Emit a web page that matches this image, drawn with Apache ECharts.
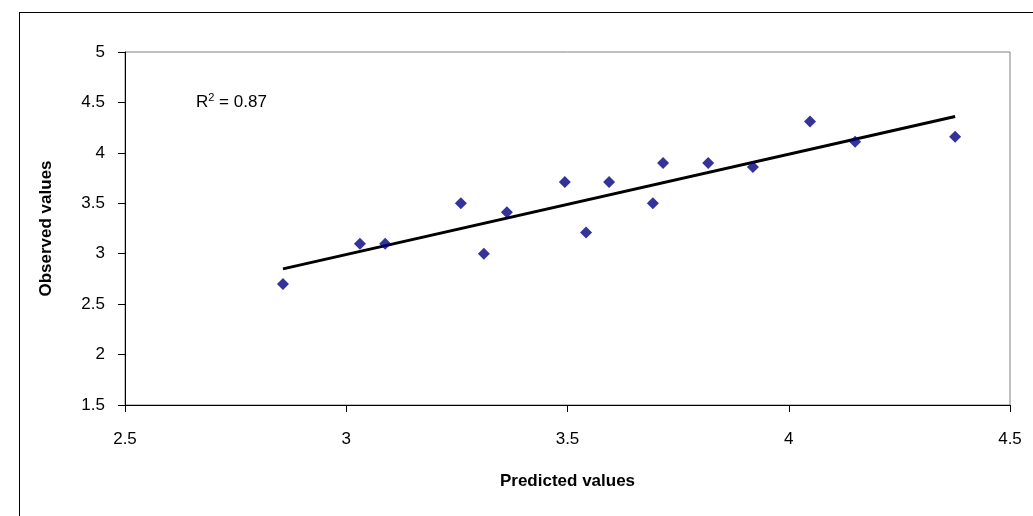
<!DOCTYPE html>
<html><head><meta charset="utf-8">
<script src="https://cdn.jsdelivr.net/npm/echarts@6/dist/echarts.min.js"></script>
<style>html,body{margin:0;padding:0;background:#fff}
#frame{position:absolute;left:19px;top:12px;width:1020px;height:510px;border:1px solid #000;box-sizing:border-box}
#c{width:1033px;height:516px}</style>
</head><body>
<div id="frame"></div>
<div id="c"></div>
<script>
// predicted vs observed
var predicted = [2.857, 3.031, 3.088, 3.259, 3.311, 3.363, 3.494, 3.542, 3.594, 3.693, 3.716, 3.818, 3.919, 4.048, 4.150, 4.376];
var observed  = [2.70, 3.10, 3.10, 3.50, 3.00, 3.41, 3.71, 3.21, 3.71, 3.50, 3.90, 3.90, 3.86, 4.31, 4.11, 4.16];
var trendX = [2.857, 4.376];
var trendY = [2.85, 4.36];

var chart = echarts.init(document.getElementById('c'));
var font = 'Liberation Sans, Arial, sans-serif';
chart.setOption({
  animation: false,
  grid: {left: 125, right: 23, top: 52, bottom: 111, show: true, borderColor: '#808080', borderWidth: 1},
  xAxis: {
    type: 'value', min: 2.5, max: 4.5, interval: 0.5,
    name: 'Predicted values', nameLocation: 'middle', nameGap: 68,
    nameTextStyle: {fontFamily: font, fontWeight: 'bold', fontSize: 17, color: '#000'},
    axisLine: {lineStyle: {color: '#000'}},
    axisTick: {inside: false, length: 7, lineStyle: {color: '#000'}},
    axisLabel: {fontFamily: font, fontSize: 17, color: '#000', margin: 26},
    splitLine: {show: false}
  },
  yAxis: {
    type: 'value', min: 1.5, max: 5, interval: 0.5,
    name: 'Observed values', nameLocation: 'middle', nameGap: 70,
    nameTextStyle: {fontFamily: font, fontWeight: 'bold', fontSize: 17, color: '#000'},
    axisLine: {show: true, lineStyle: {color: '#000'}},
    axisTick: {show: true, length: 7, lineStyle: {color: '#000'}},
    axisLabel: {fontFamily: font, fontSize: 17, color: '#000', margin: 20},
    splitLine: {show: false}
  },
  graphic: [{
    type: 'text', left: 196, top: 92,
    style: {text: 'R{s|2} = 0.87', fontFamily: font, fontSize: 17, fill: '#000',
      rich: {s: {fontSize: 11, verticalAlign: 'top', padding: [0, 0, 10, 0]}}}
  }],
  series: [{
    type: 'line',
    data: trendX.map(function (x, i) { return [x, trendY[i]]; }),
    symbol: 'none', lineStyle: {color: '#000', width: 3}, z: 1
  }, {
    type: 'scatter',
    data: predicted.map(function (x, i) { return [x, observed[i]]; }),
    symbol: 'diamond', symbolSize: 12,
    itemStyle: {color: '#000080'}, z: 2
  }]
});
</script>
</body></html>
